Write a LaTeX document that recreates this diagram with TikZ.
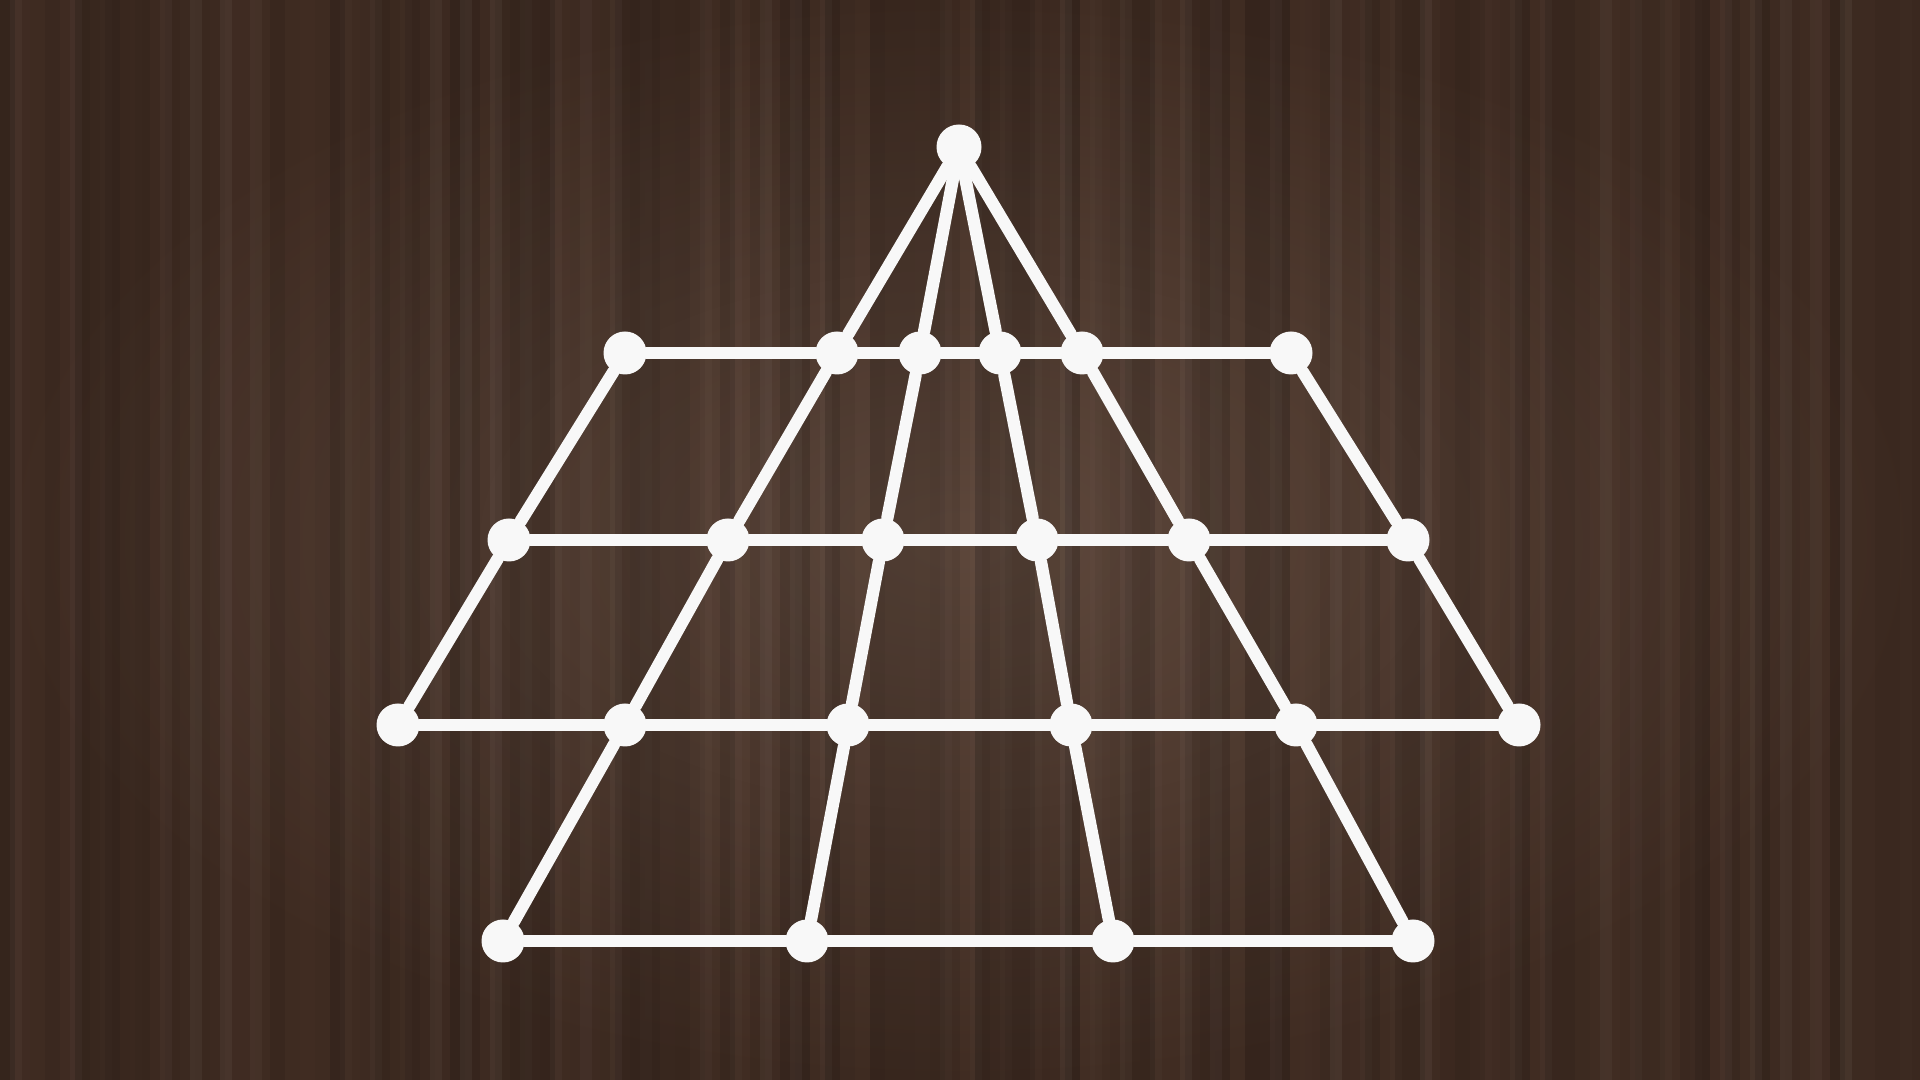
\documentclass[tikz,border=0pt]{standalone}
\usepackage{tikz}
\definecolor{wooddark}{HTML}{412D23}
\definecolor{woodlight}{HTML}{5E483C}
\definecolor{pinwhite}{HTML}{F8F8F8}
\tikzset{
  pin/.style={circle,fill=pinwhite,inner sep=0pt,minimum size=4.3mm},
  bar/.style={draw=pinwhite,line width=3.5pt,line cap=round,line join=round}
}
\begin{document}
\begin{tikzpicture}
\useasboundingbox (0,0) rectangle (19.2,10.8);
% wood
\shade[inner color=woodlight,outer color=wooddark] (0,0) rectangle (19.2,10.8);
\pgfmathsetseed{7}
\foreach \i in {0,...,127}{
  \pgfmathsetmacro\o{0.2*rnd}
  \fill[black,opacity=\o] (\i*0.15,0) rectangle ++(0.15,10.8);
}
\foreach \i in {0,...,63}{
  \pgfmathsetmacro\o{0.05*rnd}
  \fill[white,opacity=\o] (\i*0.3+0.1,0) rectangle ++(0.12,10.8);
}

\node[pin,minimum size=4.5mm] (P) at (9.59,9.33){};

\node[pin] (A1) at (6.25,7.27){};
\node[pin] (A2) at (8.37,7.27){};
\node[pin] (A3) at (9.20,7.27){};
\node[pin] (A4) at (10.00,7.27){};
\node[pin] (A5) at (10.82,7.27){};
\node[pin] (A6) at (12.91,7.27){};

\node[pin] (B1) at (5.09,5.40){};
\node[pin] (B2) at (7.28,5.40){};
\node[pin] (B3) at (8.83,5.40){};
\node[pin] (B4) at (10.37,5.40){};
\node[pin] (B5) at (11.89,5.40){};
\node[pin] (B6) at (14.08,5.40){};

\node[pin] (C1) at (3.98,3.55){};
\node[pin] (C2) at (6.25,3.55){};
\node[pin] (C3) at (8.48,3.55){};
\node[pin] (C4) at (10.71,3.55){};
\node[pin] (C5) at (12.96,3.55){};
\node[pin] (C6) at (15.19,3.55){};

\node[pin] (D1) at (5.03,1.39){};
\node[pin] (D2) at (8.07,1.39){};
\node[pin] (D3) at (11.13,1.39){};
\node[pin] (D4) at (14.13,1.39){};

\draw[bar](A1)--(A2)--(A3)--(A4)--(A5)--(A6);
\draw[bar](B1)--(B2)--(B3)--(B4)--(B5)--(B6);
\draw[bar](C1)--(C2)--(C3)--(C4)--(C5)--(C6);
\draw[bar](D1)--(D2)--(D3)--(D4);
\draw[bar](A1)--(B1)--(C1);
\draw[bar](A6)--(B6)--(C6);
\draw[bar](P)--(A2)--(B2)--(C2)--(D1);
\draw[bar](P)--(A3)--(B3)--(C3)--(D2);
\draw[bar](P)--(A4)--(B4)--(C4)--(D3);
\draw[bar](P)--(A5)--(B5)--(C5)--(D4);
\end{tikzpicture}
\end{document}
